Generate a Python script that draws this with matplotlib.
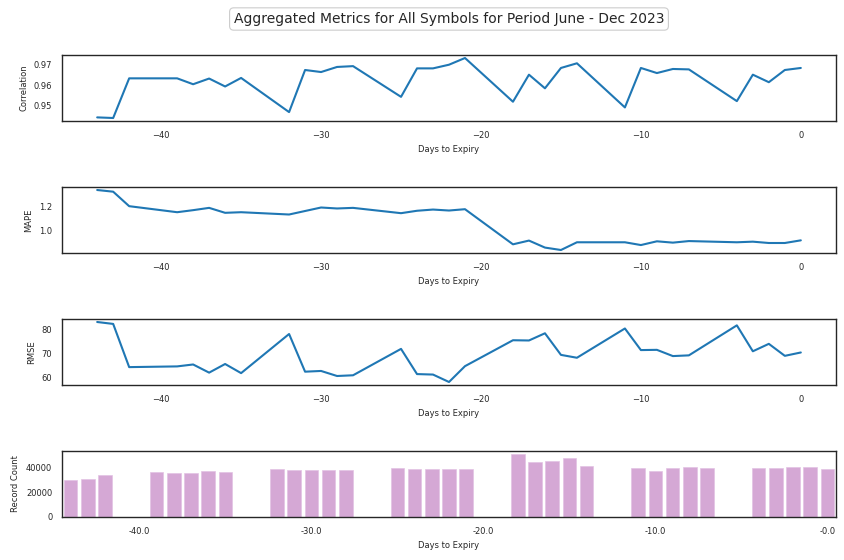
import matplotlib
matplotlib.use("Agg")
import matplotlib.pyplot as plt
import seaborn as sns

sns.set_style("white")
plt.rcParams['font.family'] = ['DejaVu Sans']

days = [-44, -43, -42, -39, -38, -37, -36, -35, -32, -31, -30, -29, -28,
        -25, -24, -23, -22, -21, -18, -17, -16, -15, -14, -11, -10, -9, -8, -7,
        -4, -3, -2, -1, 0]

correlation = [0.9441, 0.9438, 0.9633, 0.9633, 0.9604, 0.9632, 0.9593, 0.9635,
               0.9467, 0.9674, 0.9664, 0.9689, 0.9693, 0.9542, 0.9682, 0.9682,
               0.9700, 0.9733, 0.9518, 0.9651, 0.9584, 0.9684, 0.9707, 0.9490,
               0.9684, 0.9659, 0.9679, 0.9677, 0.9521, 0.9651, 0.9614, 0.9674,
               0.9684]

mape = [1.337, 1.323, 1.203, 1.153, 1.170, 1.189, 1.148, 1.153, 1.134, 1.163,
        1.192, 1.184, 1.189, 1.145, 1.165, 1.175, 1.167, 1.178, 0.887, 0.918,
        0.860, 0.840, 0.904, 0.904, 0.881, 0.912, 0.901, 0.914, 0.904, 0.909,
        0.898, 0.898, 0.920]

rmse = [83.2, 82.4, 64.4, 64.7, 65.5, 62.1, 65.7, 61.9, 78.2, 62.5, 62.8, 60.7,
        61.0, 72.0, 61.5, 61.3, 58.2, 64.8, 75.6, 75.5, 78.5, 69.5, 68.3, 80.5,
        71.5, 71.6, 69.0, 69.3, 81.8, 71.0, 74.1, 69.1, 70.5]

record_count = [29800, 30800, 34000, 35700, 34900, 34900, 36500, 35700, 38100,
                37300, 37300, 37300, 37300, 38900, 38100, 38100, 38100, 38100,
                50300, 43800, 44600, 47000, 40600, 38900, 36500, 38900, 39700,
                38900, 38900, 38900, 39700, 39700, 38100]

title = "Aggregated Metrics for All Symbols for Period June - Dec 2023"
line_ticks = [-40, -30, -20, -10, 0]
bar_tick_labels = ["-40.0", "-30.0", "-20.0", "-10.0", "-0.0"]

fig = plt.figure(figsize=(8.45, 5.6), dpi=100)
left, width, height = 62 / 845, 774 / 845, 66 / 560
bottoms = [1 - 121 / 560, 1 - 253 / 560, 1 - 385 / 560, 1 - 517 / 560]
axes = [fig.add_axes([left, b, width, height]) for b in bottoms]

fs = 6
line_color = "#1f77b4"
series = [(correlation, "Correlation", [0.95, 0.96, 0.97], "{:.2f}"),
          (mape, "MAPE", [1.0, 1.2], "{:.1f}"),
          (rmse, "RMSE", [60, 70, 80], "{:.0f}")]
for ax, (vals, lab, yt, fmt) in zip(axes[:3], series):
    ax.plot(days, vals, color=line_color, lw=1.5)
    ax.set_ylabel(lab, fontsize=fs)
    ax.set_xlabel("Days to Expiry", fontsize=fs)
    ax.set_xticks(line_ticks)
    ax.set_yticks(yt)
    ax.set_yticklabels([fmt.format(v) for v in yt])
    ax.tick_params(labelsize=fs)

bar_color = sns.desaturate("plum", 0.75)
ax4 = axes[3]
ax4.bar(days, record_count, width=0.8, color=bar_color, edgecolor="#e3c3e4", linewidth=0.5)
ax4.set_xlim(-44.5, 0.5)
ax4.set_xticks(line_ticks)
ax4.set_xticklabels(bar_tick_labels)
ax4.set_yticks([0, 20000, 40000])
ax4.set_ylabel("Record Count", fontsize=fs)
ax4.set_xlabel("Days to Expiry", fontsize=fs)
ax4.tick_params(labelsize=fs)

for ax in axes:
    for s in ax.spines.values():
        s.set_color("#262626")
        s.set_linewidth(1.0)

fig.text(449 / 845, 1 - 19 / 560, title, ha="center", va="center", fontsize=10,
         color="#262626",
         bbox=dict(boxstyle="round,pad=0.3", facecolor="white", edgecolor="#cccccc", linewidth=0.8))

fig.savefig("out.png", dpi=100)
